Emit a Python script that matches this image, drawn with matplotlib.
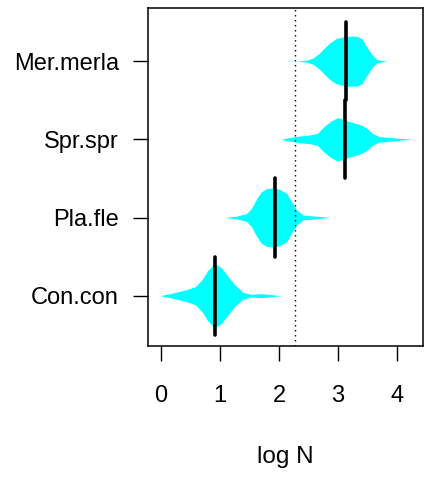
import matplotlib
matplotlib.use("Agg")
import matplotlib.pyplot as plt

plt.rcParams['font.family'] = ['Liberation Sans', 'DejaVu Sans']

# species, bottom to top
species = ["Con.con", "Pla.fle", "Spr.spr", "Mer.merla"]

# violin outlines: log N values and half widths
con_x = [-0.02, 0.18, 0.41, 0.58, 0.69, 0.80, 0.91, 1.03, 1.14, 1.25, 1.39, 1.53, 1.70, 1.87, 2.04]
con_w = [0, 0.03, 0.073, 0.115, 0.2, 0.33, 0.41, 0.35, 0.24, 0.137, 0.042, 0.017, 0.026, 0.013, 0]

pla_x = [1.08, 1.28, 1.45, 1.53, 1.62, 1.70, 1.79, 1.90, 2.01, 2.13, 2.21, 2.30, 2.41, 2.63, 2.86]
pla_w = [0, 0.017, 0.051, 0.115, 0.24, 0.33, 0.37, 0.38, 0.36, 0.31, 0.20, 0.094, 0.03, 0.017, 0]

spr_x = [2.03, 2.17, 2.34, 2.51, 2.65, 2.76, 2.88, 2.99, 3.07, 3.19, 3.36, 3.47, 3.58, 3.69, 3.92, 4.09, 4.26]
spr_w = [0, 0.022, 0.042, 0.055, 0.077, 0.163, 0.235, 0.278, 0.26, 0.227, 0.192, 0.15, 0.077, 0.035, 0.022, 0.009, 0]

mer_x = [2.30, 2.47, 2.58, 2.69, 2.77, 2.86, 2.97, 3.08, 3.20, 3.31, 3.40, 3.48, 3.57, 3.65, 3.82]
mer_w = [0, 0.013, 0.042, 0.107, 0.17, 0.235, 0.29, 0.31, 0.32, 0.32, 0.29, 0.19, 0.086, 0.022, 0]

outlines = [(con_x, con_w), (pla_x, pla_w), (spr_x, spr_w), (mer_x, mer_w)]

# central values (black bars)
centres = [0.91, 1.93, 3.11, 3.125]
ref_line = 2.27

fig = plt.figure(figsize=(4.29, 4.8), dpi=100)
ax = fig.add_axes([0.345, 0.2798, 0.64, 0.7035])

for i, (xs, ws) in enumerate(outlines):
    pos = i + 1
    ax.fill_between(xs, [pos - w for w in ws], [pos + w for w in ws],
                    color="#00ffff", linewidth=0)
    ax.plot([centres[i], centres[i]], [pos - 0.5, pos + 0.5], color="black",
            lw=2.6, solid_capstyle="round")

ax.axvline(ref_line, color="black", lw=1.0, linestyle=(0, (1, 2.6)))

ax.set_xlim(-0.22, 4.43)
ax.set_ylim(0.36, 4.68)
ax.set_xticks([0, 1, 2, 3, 4])
ax.set_yticks(range(1, len(species) + 1))
ax.set_yticklabels(species)
ax.tick_params(axis="both", length=11, width=1.0, direction="out", labelsize=17)
ax.tick_params(axis="x", pad=17)
ax.tick_params(axis="y", pad=10)
for s in ax.spines.values():
    s.set_linewidth(1.1)

fig.text(0.665, 1 - 457 / 480, "log N", ha="center", va="center", fontsize=17.5)

fig.savefig("out.png", dpi=100)
